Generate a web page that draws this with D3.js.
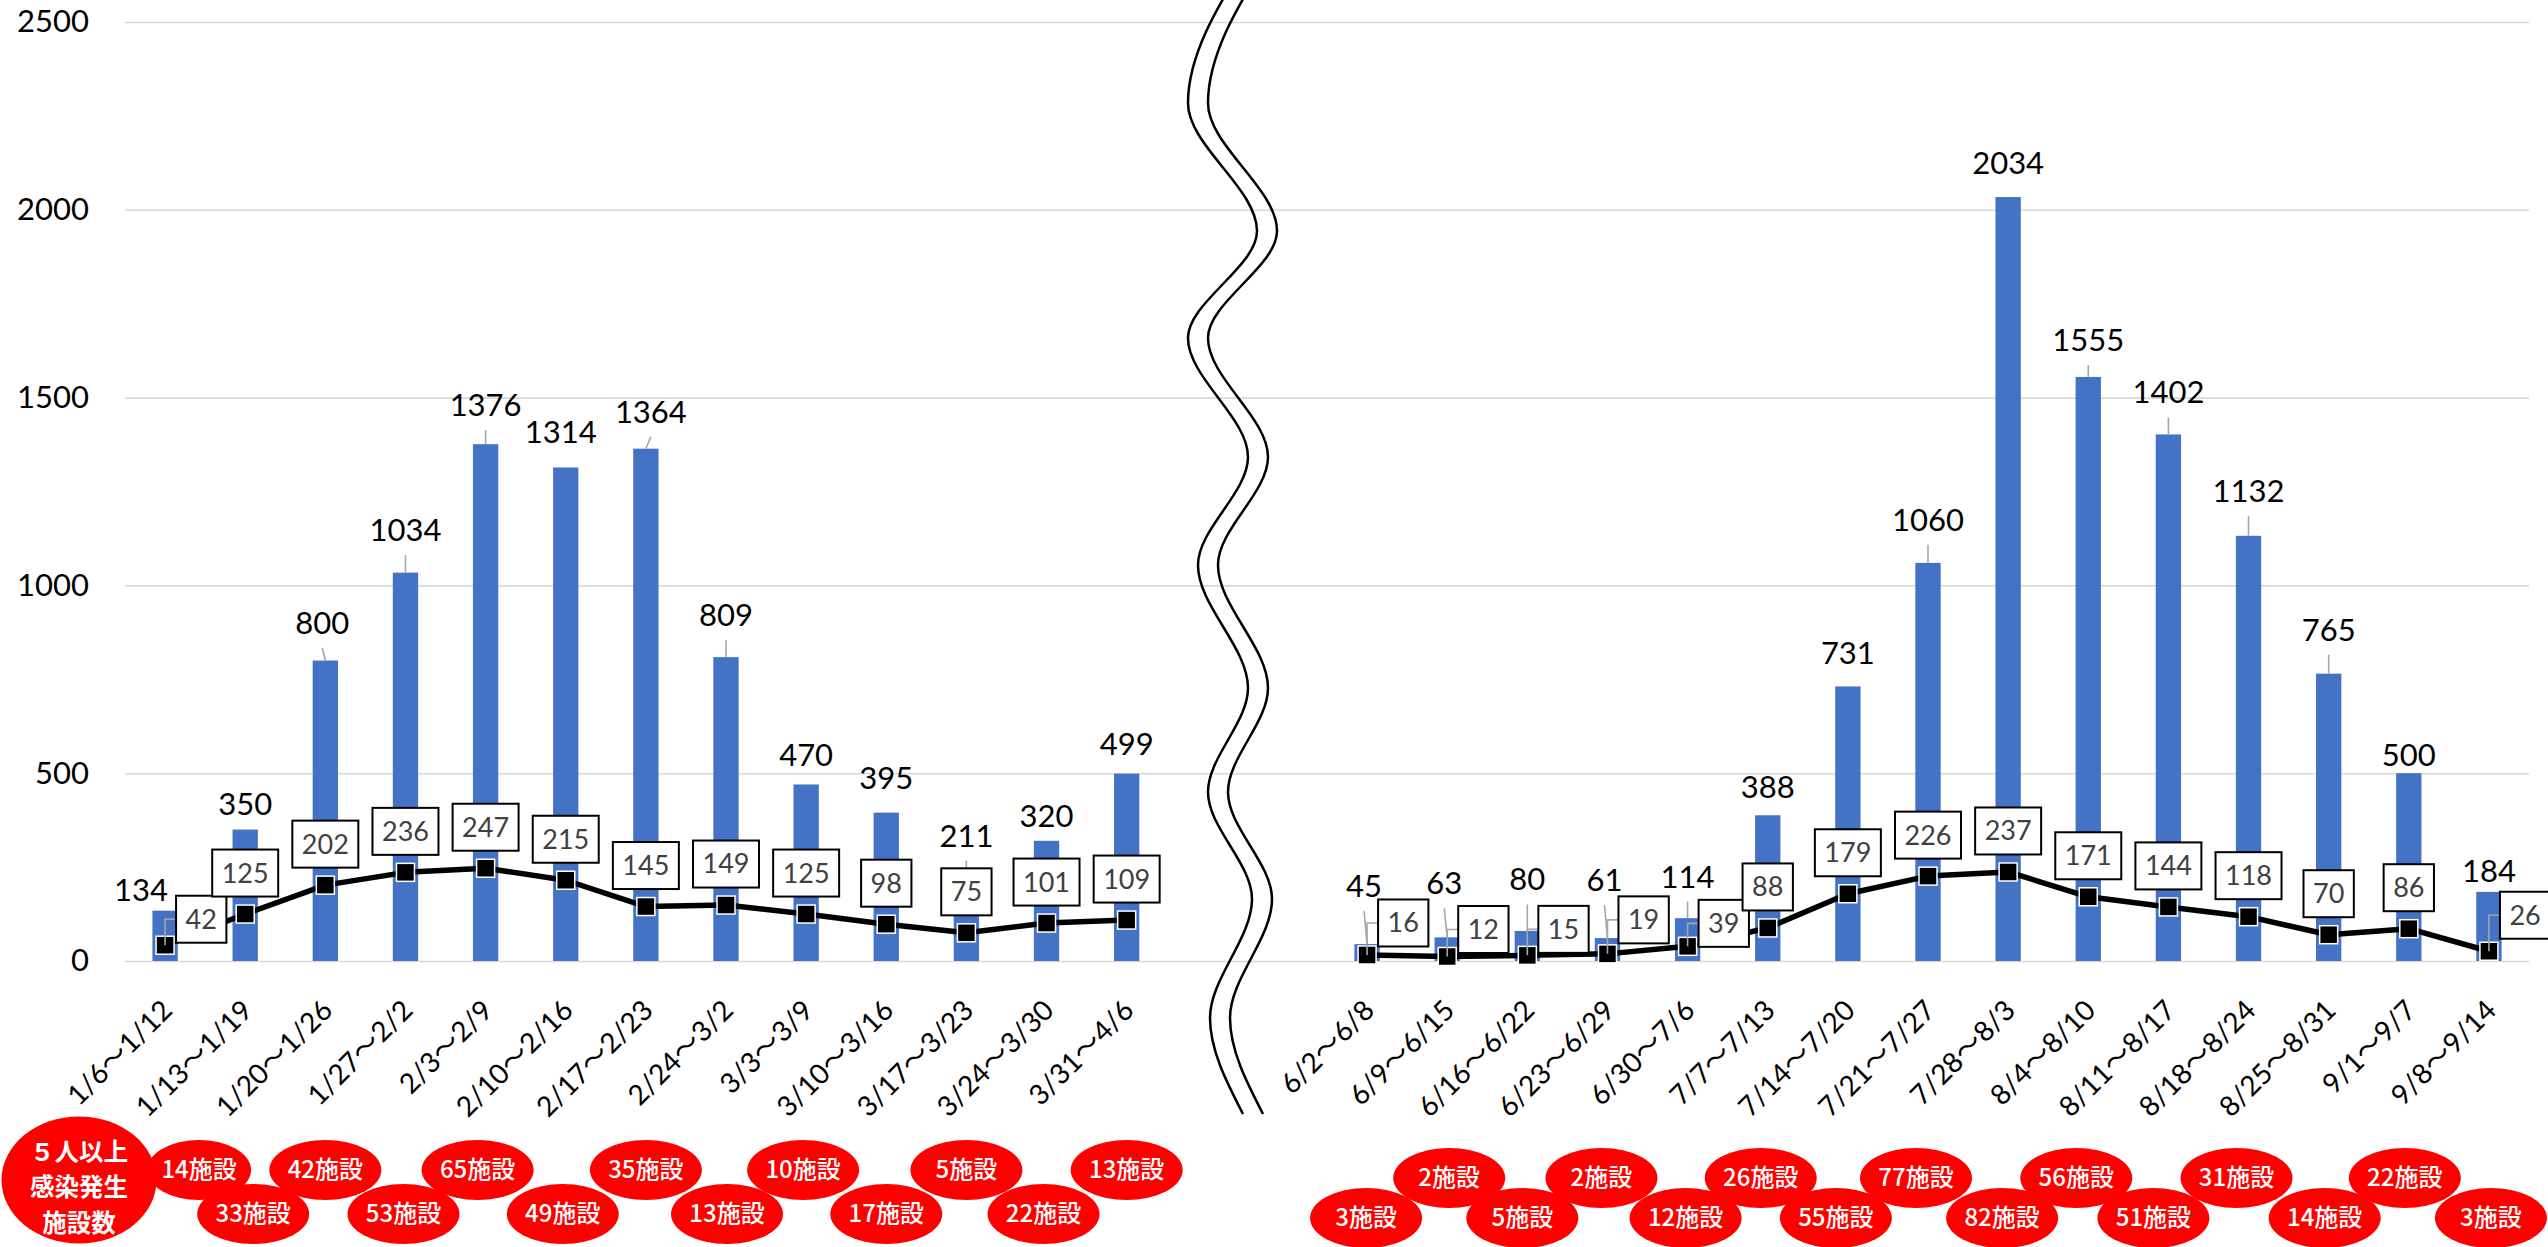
<!DOCTYPE html>
<html><head><meta charset="utf-8">
<script src="https://cdn.jsdelivr.net/npm/d3@7"></script>
<style>body{margin:0;background:#fff}svg{display:block}</style>
</head><body><svg id="c" width="2548" height="1247"></svg>
<script>
// ---------- data ----------
const leftWeeks = ["1/6～1/12","1/13～1/19","1/20～1/26","1/27～2/2","2/3～2/9","2/10～2/16","2/17～2/23","2/24～3/2","3/3～3/9","3/10～3/16","3/17～3/23","3/24～3/30","3/31～4/6"];
const rightWeeks = ["6/2～6/8","6/9～6/15","6/16～6/22","6/23～6/29","6/30～7/6","7/7～7/13","7/14～7/20","7/21～7/27","7/28～8/3","8/4～8/10","8/11～8/17","8/18～8/24","8/25～8/31","9/1～9/7","9/8～9/14"];
const leftCases = [134,350,800,1034,1376,1314,1364,809,470,395,211,320,499];
const rightCases = [45,63,80,61,114,388,731,1060,2034,1555,1402,1132,765,500,184];
const leftFacilities = [42,125,202,236,247,215,145,149,125,98,75,101,109];
const rightFacilities = [16,12,15,19,39,88,179,226,237,171,144,118,70,86,26];
const leftClusters = [14,33,42,53,65,49,35,13,10,17,5,22,13];
const rightClusters = [3,2,5,2,12,26,55,77,82,56,51,31,14,22,3];
const yTicks = [0,500,1000,1500,2000,2500];
const clusterTitle = ["５人以上","感染発生","施設数"];
const clusterUnit = "施設";

// ---------- layout tweaks (label placement) ----------
const barLabelRise = [21,25,37.5,42.6,39,35,37,42,29,34.6,46,25,29, 58,54,51.5,58,41.5,28,33,43,34,37,42,45,44,18.5,20.6];
const barLabelDx = [-24,0,-3,0,0,-5,5,0,0,0,0,0,0, -3,-3,0,-3,0,0,0,0,0,0,0,0,0,0,0];
const lineLabelSide = {0:-26, 13:-32, 14:-27, 15:-26, 16:-34, 17:-23, 27:-36};
const bubbleDx = [34,8,0,-2,-8,-3,0,1,-3,0,0,-3,0, -1,2,-5,-6,-2,-7,-12,-12,-6,-12,-15,-12,-4,-4,2];

// ---------- setup ----------
const svg = d3.select("#c");
const plotLeft = 125, plotRight = 2529, yTop = 22, yBase = 961;
const latin = "Lato, 'Noto Sans CJK JP', sans-serif";
const cjk = "'Noto Sans CJK JP', sans-serif";
const gapKeys = ["_gap1","_gap2"];
const keys = [...leftWeeks, ...gapKeys, ...rightWeeks];
const x = d3.scaleBand().domain(keys).range([plotLeft, plotRight]).paddingInner(0.684).paddingOuter(0.342);
const y = d3.scaleLinear().domain([0,2500]).range([yBase, yTop]);
const cx = k => x(k) + x.bandwidth()/2;

const rows = leftWeeks.map((w,i)=>({key:w, seg:0, i, cases:leftCases[i], fac:leftFacilities[i], cl:leftClusters[i]}))
  .concat(rightWeeks.map((w,i)=>({key:w, seg:1, i, cases:rightCases[i], fac:rightFacilities[i], cl:rightClusters[i]})));
rows.forEach((r,j)=>r.j=j);

// gridlines
const grid = svg.append("g").attr("transform",`translate(${plotLeft},0)`)
  .call(d3.axisLeft(y).tickValues(yTicks).tickSize(-(plotRight-plotLeft)).tickFormat(""));
grid.select(".domain").remove();
grid.selectAll("line").attr("stroke","#D9D9D9").attr("stroke-width",1.6);

// y labels
const ya = svg.append("g").attr("transform",`translate(${plotLeft},0)`)
  .call(d3.axisLeft(y).tickValues(yTicks).tickFormat(d3.format("d")).tickSize(0).tickPadding(36));
ya.select(".domain").remove();
ya.selectAll("text").attr("font-family",latin).attr("font-size",31).attr("fill","#000");

// bars
svg.append("g").selectAll("rect").data(rows).join("rect")
  .attr("x",d=>x(d.key)).attr("y",d=>y(d.cases))
  .attr("width",x.bandwidth()).attr("height",d=>yBase-y(d.cases))
  .attr("fill","#4472C4");

// bar labels + leaders
const bl = svg.append("g");
rows.forEach(d=>{
  const bx = cx(d.key), top = y(d.cases);
  const lx = bx + barLabelDx[d.j], ly = top - barLabelRise[d.j];
  if (barLabelRise[d.j] > 36) {
    bl.append("line").attr("x1",lx).attr("y1",ly+25).attr("x2",bx).attr("y2",top)
      .attr("stroke","#A6A6A6").attr("stroke-width",1.6);
  }
  bl.append("text").attr("x",lx).attr("y",ly).attr("dy","0.35em")
    .attr("text-anchor","middle").attr("font-family",latin).attr("font-size",31)
    .attr("fill","#000").text(d.cases);
});

// line series (two segments)
const line = d3.line().x(d=>cx(d.key)).y(d=>y(d.fac));
[0,1].forEach(s=>{
  svg.append("path").datum(rows.filter(r=>r.seg===s)).attr("d",line)
    .attr("fill","none").attr("stroke","#000").attr("stroke-width",5.5).attr("stroke-linejoin","round");
});
svg.append("g").selectAll("rect").data(rows).join("rect")
  .attr("x",d=>cx(d.key)-9).attr("y",d=>y(d.fac)-9).attr("width",18).attr("height",18)
  .attr("fill","#000").attr("stroke","#fff").attr("stroke-width",1.5);

// line labels (boxes)
const ll = svg.append("g");
rows.forEach(d=>{
  const mx = cx(d.key), my = y(d.fac);
  const t = ll.append("text").attr("font-family",latin).attr("font-size",27)
    .attr("fill","#404040").attr("text-anchor","middle").attr("dy","0.35em").text(d.fac);
  const tw = t.node().getComputedTextLength();
  const bw = tw + 19, bh = 47;
  let bxc, byc;
  if (lineLabelSide[d.j] !== undefined) {
    byc = my + lineLabelSide[d.j];
    bxc = mx + 11 + bw/2;
    ll.insert("path","text").attr("d",`M${mx},${my}V${byc}H${mx+11}`)
      .attr("fill","none").attr("stroke","#A6A6A6").attr("stroke-width",1.6);
  } else {
    bxc = mx; byc = my - 41;
  }
  ll.insert("rect","text").attr("x",bxc-bw/2).attr("y",byc-bh/2).attr("width",bw).attr("height",bh)
    .attr("fill","#fff").attr("stroke","#000").attr("stroke-width",2);
  t.attr("x",bxc).attr("y",byc);
});

// x axis labels
const xa = svg.append("g").attr("transform",`translate(0,${yBase})`)
  .call(d3.axisBottom(x).tickSize(0).tickFormat(d=>d.startsWith("_")?"":d));
xa.select(".domain").remove();
xa.selectAll("text").attr("y",0).attr("x",0).attr("dy","0.35em")
  .attr("transform","translate(2,44) rotate(-45)").attr("text-anchor","end")
  .attr("font-family",latin).attr("font-size",28).attr("fill","#000");

// axis break (double wave)
const wavePts = [[1246,-40],[1188,103],[1257,231],[1188,338],[1248,457],[1198,565],[1248,688],[1208,792],[1252,899],[1210,1018],[1243,1114]];
const wave = d3.line().curve(d3.curveMonotoneY);
[0,20].forEach(off=>{
  svg.append("path").attr("d",wave(wavePts.map(p=>[p[0]+off,p[1]])))
    .attr("fill","none").attr("stroke","#000").attr("stroke-width",2.5);
});

// cluster bubbles
const bub = svg.append("g");
rows.forEach(d=>{
  const up = d.seg===0 ? (d.i%2===0) : (d.i%2===1);
  const by = d.seg===0 ? (up?1170:1214) : (up?1178:1218);
  const bx = cx(d.key) + bubbleDx[d.j];
  const rx = d.j===0 ? 52 : 56;
  bub.append("ellipse").attr("cx",bx).attr("cy",by).attr("rx",rx).attr("ry",30).attr("fill","#FF0000");
  bub.append("text").attr("x",bx).attr("y",by).attr("dy","0.35em").attr("text-anchor","middle")
    .attr("font-family",cjk).attr("font-size",24).attr("font-weight",500).attr("fill","#fff")
    .text(d.cl + clusterUnit);
});
bub.append("ellipse").attr("cx",79).attr("cy",1180).attr("rx",77.5).attr("ry",63.5).attr("fill","#FF0000");
clusterTitle.forEach((s,k)=>{
  bub.append("text").attr("x",79).attr("y",1152+k*35.6).attr("dy","0.35em").attr("text-anchor","middle")
    .attr("font-family",cjk).attr("font-size",24.5).attr("font-weight",700).attr("fill","#fff").text(s);
});
</script></body></html>
